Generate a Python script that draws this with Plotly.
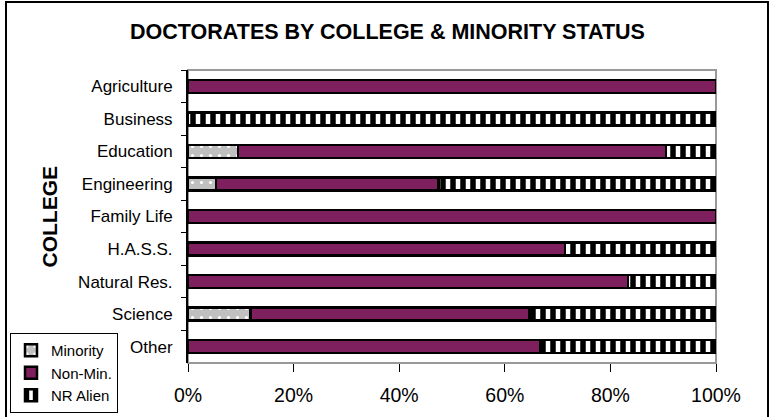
import plotly.graph_objects as go

colleges = ["Agriculture", "Business", "Education", "Engineering", "Family Life",
            "H.A.S.S.", "Natural Res.", "Science", "Other"]
minority = [0, 0, 9.5, 5.3, 0, 0, 0, 11.8, 0]
non_min = [100, 0, 81.0, 42.1, 100, 71.4, 83.3, 52.9, 66.7]
nr_alien = [0, 100, 9.5, 52.6, 0, 28.6, 16.7, 35.3, 33.3]
x_ticks = [0, 20, 40, 60, 80, 100]
x_tick_labels = ["0%", "20%", "40%", "60%", "80%", "100%"]

W, H = 775, 417
L, R, T, B = 188, 716, 70, 363
FONT = "Liberation Sans, Arial, sans-serif"

fig = go.Figure()
line = dict(color="black", width=2.5)
fig.add_trace(go.Bar(
    y=colleges, x=minority, orientation="h", name="Minority",
    marker=dict(color="#C0C0C0", line=line,
                pattern=dict(shape=".", fgcolor="white", bgcolor="#C0C0C0",
                             size=9, solidity=0.1, fillmode="replace")),
))
fig.add_trace(go.Bar(
    y=colleges, x=non_min, orientation="h", name="Non-Min.",
    marker=dict(color="#7E1F5E", line=line),
))
fig.add_trace(go.Bar(
    y=colleges, x=nr_alien, orientation="h", name="NR Alien",
    marker=dict(color="white", line=line,
                pattern=dict(shape="|", fgcolor="black", bgcolor="white",
                             size=10, solidity=0.55, fillmode="replace")),
))


def px(xp):
    return (xp - L) / (R - L)


def py(yp):
    return (B - yp) / (B - T)


n = len(colleges)
fig.update_layout(
    width=W, height=H,
    margin=dict(l=L, r=W - R, t=T, b=H - B, pad=0, autoexpand=False),
    barmode="stack", bargap=0.6,
    plot_bgcolor="white", paper_bgcolor="white",
    font=dict(family=FONT, color="black"),
    title=dict(text="<b>DOCTORATES BY COLLEGE & MINORITY STATUS</b>",
               x=0.5, xanchor="center", y=1 - 31 / H, yanchor="middle",
               font=dict(size=21.5, color="black")),
    xaxis=dict(range=[0, 100], tickvals=x_ticks, ticktext=x_tick_labels,
               showgrid=False, zeroline=False, showline=False,
               ticks="outside", ticklen=8, tickcolor="black", tickwidth=1,
               tickfont=dict(size=19.5), ticklabelstandoff=7, fixedrange=True),
    yaxis=dict(categoryorder="array", categoryarray=colleges, autorange="reversed",
               showgrid=False, zeroline=False, showline=True, linecolor="black",
               linewidth=2, ticks="outside", ticklen=5, tickcolor="black",
               tickson="boundaries", tickfont=dict(size=17), ticklabelstandoff=10,
               fixedrange=True),
    yaxis2=dict(overlaying="y", anchor="x", side="left", range=[n - 0.5, -0.5],
                tickvals=[i - 0.5 for i in range(n + 1)], showticklabels=False,
                ticks="inside", ticklen=5, tickcolor="black", showgrid=False,
                zeroline=False, showline=False, fixedrange=True),
    legend=dict(xref="container", yref="container", x=10 / W, y=4 / H,
                xanchor="left", yanchor="bottom",
                bordercolor="black", borderwidth=1, bgcolor="white",
                font=dict(size=15), traceorder="normal",
                itemwidth=30, tracegroupgap=0),
    showlegend=True,
)

# COLLEGE axis title
fig.add_annotation(text="<b>COLLEGE</b>", xref="paper", yref="paper",
                   x=px(49), y=0.5, xanchor="center", yanchor="middle",
                   textangle=-90, showarrow=False,
                   font=dict(size=21, color="black"))

# plot-area box (grey) and outer chart border
fig.add_shape(type="rect", xref="paper", yref="paper", x0=0, x1=1, y0=0, y1=1,
              line=dict(color="#999999", width=2), layer="below")
fig.add_shape(type="rect", xref="paper", yref="paper",
              x0=px(6), x1=px(768), y0=py(425), y1=py(2),
              line=dict(color="black", width=2), layer="below")

fig.write_html("out.html",
               config={"displayModeBar": False, "staticPlot": True},
               post_script="document.body.style.margin='0px';"
                           "document.body.style.overflow='hidden';")
